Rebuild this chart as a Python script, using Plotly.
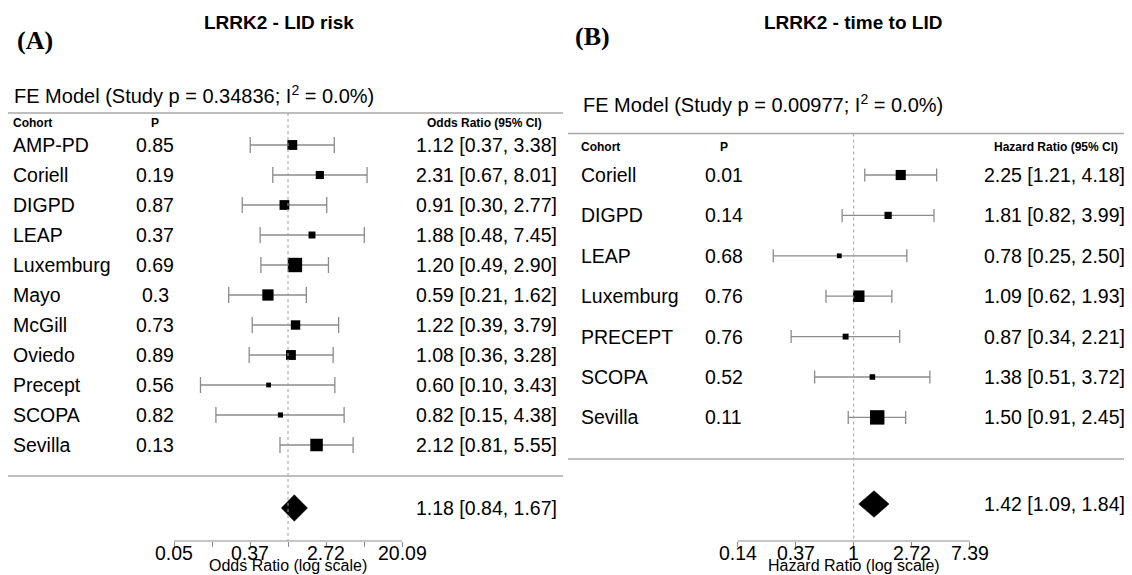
import math
import plotly.graph_objects as go

# ---------------- Panel A data ----------------
title_a = "LRRK2 - LID risk"
letter_a = "(A)"
model_a = "FE Model (Study p = 0.34836; I<sup>2</sup> = 0.0%)"
col_head_a = ["Cohort", "P", "Odds Ratio (95% CI)"]
xlab_a = "Odds Ratio (log scale)"
cohorts_a = ["AMP-PD", "Coriell", "DIGPD", "LEAP", "Luxemburg", "Mayo",
             "McGill", "Oviedo", "Precept", "SCOPA", "Sevilla"]
p_a = ["0.85", "0.19", "0.87", "0.37", "0.69", "0.3", "0.73", "0.89",
       "0.56", "0.82", "0.13"]
est_a = [1.12, 2.31, 0.91, 1.88, 1.20, 0.59, 1.22, 1.08, 0.60, 0.82, 2.12]
lo_a = [0.37, 0.67, 0.30, 0.48, 0.49, 0.21, 0.39, 0.36, 0.10, 0.15, 0.81]
hi_a = [3.38, 8.01, 2.77, 7.45, 2.90, 1.62, 3.79, 3.28, 3.43, 4.38, 5.55]
summary_a = [1.18, 0.84, 1.67]
ticks_a = [-3, -2, -1, 0, 1, 2, 3]          # natural-log positions
ticklabels_a = ["0.05", "", "0.37", "", "2.72", "", "20.09"]

# ---------------- Panel B data ----------------
title_b = "LRRK2 - time to LID"
letter_b = "(B)"
model_b = "FE Model (Study p = 0.00977; I<sup>2</sup> = 0.0%)"
col_head_b = ["Cohort", "P", "Hazard Ratio (95% CI)"]
xlab_b = "Hazard Ratio (log scale)"
cohorts_b = ["Coriell", "DIGPD", "LEAP", "Luxemburg", "PRECEPT", "SCOPA", "Sevilla"]
p_b = ["0.01", "0.14", "0.68", "0.76", "0.76", "0.52", "0.11"]
est_b = [2.25, 1.81, 0.78, 1.09, 0.87, 1.38, 1.50]
lo_b = [1.21, 0.82, 0.25, 0.62, 0.34, 0.51, 0.91]
hi_b = [4.18, 3.99, 2.50, 1.93, 2.21, 3.72, 2.45]
summary_b = [1.42, 1.09, 1.84]
ticks_b = [-2, -1, 0, 1, 2]
ticklabels_b = ["0.14", "0.37", "1", "2.72", "7.39"]

# ---------------- styling / layout constants ----------------
W, H = 1132, 575          # browser window
OFF = 8                   # default body margin of the page
FW, FH = W - OFF, H - OFF  # figure size so that it fits the window exactly

SANS = "Liberation Sans, Arial, sans-serif"
SERIF = "Liberation Serif, Times New Roman, serif"
GRAY = "#8c8c8c"
LINEGRAY = "#a8a8a8"
ROWFONT = 19.5
LN10 = math.log(10)

panels = [
    dict(title=title_a, letter=letter_a, model=model_a, heads=col_head_a, xlab=xlab_a,
         cohorts=cohorts_a, p=p_a, est=est_a, lo=lo_a, hi=hi_a, summ=summary_a,
         ticks=ticks_a, ticklabels=ticklabels_a,
         x0=OFF, x1=566, ref_px=288, px_per_ln=38.0,
         row0=145, step=30, head_line=113, sep_line=476, summ_y=508,
         axis_y=541, model_y=94, head_y=123, title_y=22, letter_y=40,
         title_x=279, letter_x=15, model_x=12, label_x=11, p_x=155,
         val_right=559, head3_x=484, line_x0=OFF, line_x1=563, cap=8,
         diamond_half=13.3),
    dict(title=title_b, letter=letter_b, model=model_b, heads=col_head_b, xlab=xlab_b,
         cohorts=cohorts_b, p=p_b, est=est_b, lo=lo_b, hi=hi_b, summ=summary_b,
         ticks=ticks_b, ticklabels=ticklabels_b,
         x0=566, x1=W, ref_px=853.7, px_per_ln=58.0,
         row0=175, step=40.4, head_line=133.5, sep_line=459, summ_y=504,
         axis_y=541, model_y=103, head_y=147, title_y=22, letter_y=37,
         title_x=853, letter_x=573, model_x=581, label_x=579, p_x=724,
         val_right=1127, head3_x=1056, line_x0=568, line_x1=W, cap=6.5,
         diamond_half=13.3),
]


def py(y):
    """window pixel y -> paper fraction"""
    return 1 - (y - OFF) / FH


def pxx(x):
    """window pixel x -> paper fraction"""
    return (x - OFF) / FW


def box_sizes(lo, hi, unit=9.6):
    # inverse-variance weights from the CI, rescaled to 0.5..1.5 (metafor style)
    w = [1.0 / ((math.log(h) - math.log(l)) / (2 * 1.96)) ** 2 for l, h in zip(lo, hi)]
    mn, mx = min(w), max(w)
    return [unit * (0.5 + (wi - mn) / (mx - mn)) for wi in w]


fig = go.Figure()
shapes, annotations = [], []
layout = {}

for k, c in enumerate(panels, start=1):
    xa = "x" if k == 1 else f"x{k}"
    ya = "y" if k == 1 else f"y{k}"
    xkey = "xaxis" if k == 1 else f"xaxis{k}"
    ykey = "yaxis" if k == 1 else f"yaxis{k}"
    n = len(c["cohorts"])
    rows = list(range(n))

    # axis ranges so that data map onto the panel geometry
    ln_left = (c["x0"] - c["ref_px"]) / c["px_per_ln"]
    ln_right = (c["x1"] - c["ref_px"]) / c["px_per_ln"]
    layout[xkey] = dict(type="log", domain=[max(0, pxx(c["x0"])), min(1, pxx(c["x1"]))],
                        range=[ln_left / LN10, ln_right / LN10],
                        anchor="free", position=py(c["axis_y"]),
                        showgrid=False, zeroline=False, showline=False,
                        ticks="outside", ticklen=5, tickwidth=1.2, tickcolor=GRAY,
                        tickvals=[math.exp(t) for t in c["ticks"]],
                        showticklabels=False, fixedrange=True)
    y_top = (OFF - c["row0"]) / c["step"]
    y_bot = (H - c["row0"]) / c["step"]
    layout[ykey] = dict(domain=[0, 1], range=[y_bot, y_top], visible=False,
                        anchor=xa, fixedrange=True)

    def yrow(ypx):
        return (ypx - c["row0"]) / c["step"]

    # study estimates with CIs
    sizes = box_sizes(c["lo"], c["hi"])
    fig.add_trace(go.Scatter(
        x=c["est"], y=rows, mode="markers", xaxis=xa, yaxis=ya,
        marker=dict(symbol="square", size=sizes, color="black", opacity=1,
                    line=dict(width=0)),
        error_x=dict(type="data", symmetric=False,
                     array=[h - e for h, e in zip(c["hi"], c["est"])],
                     arrayminus=[e - l for e, l in zip(c["est"], c["lo"])],
                     color=GRAY, thickness=1.3, width=c["cap"]),
        showlegend=False, hoverinfo="skip"))

    # summary diamond
    est, lo, hi = c["summ"]
    ys = yrow(c["summ_y"])
    dh = c["diamond_half"] / c["step"]
    fig.add_trace(go.Scatter(
        x=[lo, est, hi, est, lo], y=[ys, ys - dh, ys, ys + dh, ys],
        mode="lines", fill="toself", fillcolor="black",
        line=dict(width=0.5, color="black"), xaxis=xa, yaxis=ya,
        showlegend=False, hoverinfo="skip"))

    # reference line at 1
    shapes.append(dict(type="line", xref=xa, yref="paper", x0=1, x1=1,
                       y0=py(c["head_line"]), y1=py(c["axis_y"]),
                       line=dict(color="#a0a0a0", width=1, dash="dot")))
    # header / separator lines
    for yl in (c["head_line"], c["sep_line"]):
        shapes.append(dict(type="line", xref="paper", yref="paper",
                           x0=pxx(c["line_x0"]), x1=pxx(c["line_x1"]),
                           y0=py(yl), y1=py(yl),
                           line=dict(color=LINEGRAY, width=1.5)))
    # x axis line
    shapes.append(dict(type="line", xref=xa, yref="paper",
                       x0=math.exp(min(c["ticks"])), x1=math.exp(max(c["ticks"])),
                       y0=py(c["axis_y"]), y1=py(c["axis_y"]),
                       line=dict(color=GRAY, width=1.2)))

    # texts
    annotations.append(dict(text=f"<b>{c['title']}</b>", xref="paper", yref="paper",
                            x=pxx(c["title_x"]), y=py(c["title_y"]), showarrow=False,
                            xanchor="center", yanchor="middle",
                            font=dict(family=SANS, size=19, color="black")))
    annotations.append(dict(text=f"<b>{c['letter']}</b>", xref="paper", yref="paper",
                            x=pxx(c["letter_x"]), y=py(c["letter_y"]), showarrow=False,
                            xanchor="left", yanchor="middle",
                            font=dict(family=SERIF, size=26, color="black")))
    annotations.append(dict(text=c["model"], xref="paper", yref="paper",
                            x=pxx(c["model_x"]), y=py(c["model_y"]), showarrow=False,
                            xanchor="left", yanchor="middle",
                            font=dict(family=SANS, size=20, color="black")))
    hfont = dict(family=SANS, size=12, color="black")
    annotations.append(dict(text=f"<b>{c['heads'][0]}</b>", xref="paper", yref="paper",
                            x=pxx(c["label_x"]), y=py(c["head_y"]), showarrow=False,
                            xanchor="left", yanchor="middle", font=hfont))
    annotations.append(dict(text=f"<b>{c['heads'][1]}</b>", xref="paper", yref="paper",
                            x=pxx(c["p_x"]), y=py(c["head_y"]), showarrow=False,
                            xanchor="center", yanchor="middle", font=hfont))
    annotations.append(dict(text=f"<b>{c['heads'][2]}</b>", xref="paper", yref="paper",
                            x=pxx(c["head3_x"]), y=py(c["head_y"]), showarrow=False,
                            xanchor="center", yanchor="middle", font=hfont))
    rfont = dict(family=SANS, size=ROWFONT, color="black")
    for i in rows:
        annotations.append(dict(text=c["cohorts"][i], xref="paper", yref=ya,
                                x=pxx(c["label_x"]), y=i, showarrow=False,
                                xanchor="left", yanchor="middle", font=rfont))
        annotations.append(dict(text=c["p"][i], xref="paper", yref=ya,
                                x=pxx(c["p_x"]), y=i, showarrow=False,
                                xanchor="center", yanchor="middle", font=rfont))
        annotations.append(dict(
            text=f"{c['est'][i]:.2f} [{c['lo'][i]:.2f}, {c['hi'][i]:.2f}]",
            xref="paper", yref=ya, x=pxx(c["val_right"]), y=i, showarrow=False,
            xanchor="right", yanchor="middle", font=rfont))
    annotations.append(dict(text=f"{est:.2f} [{lo:.2f}, {hi:.2f}]",
                            xref="paper", yref=ya, x=pxx(c["val_right"]), y=ys,
                            showarrow=False, xanchor="right", yanchor="middle",
                            font=rfont))
    # tick labels (annotation x on a log axis is given in log10 units)
    for t, lab in zip(c["ticks"], c["ticklabels"]):
        if lab:
            annotations.append(dict(text=lab, xref=xa, yref="paper", x=t / LN10,
                                    y=py(c["axis_y"] + 12), showarrow=False,
                                    xanchor="center", yanchor="middle", font=rfont))
    annotations.append(dict(text=c["xlab"], xref=xa, yref="paper", x=0,
                            y=py(c["axis_y"] + 24), showarrow=False,
                            xanchor="center", yanchor="middle",
                            font=dict(family=SANS, size=16, color="black")))

fig.update_layout(
    width=FW, height=FH, margin=dict(l=0, r=0, t=0, b=0),
    paper_bgcolor="white", plot_bgcolor="white",
    shapes=shapes, annotations=annotations, showlegend=False,
    **layout)

fig.write_html("out.html")
